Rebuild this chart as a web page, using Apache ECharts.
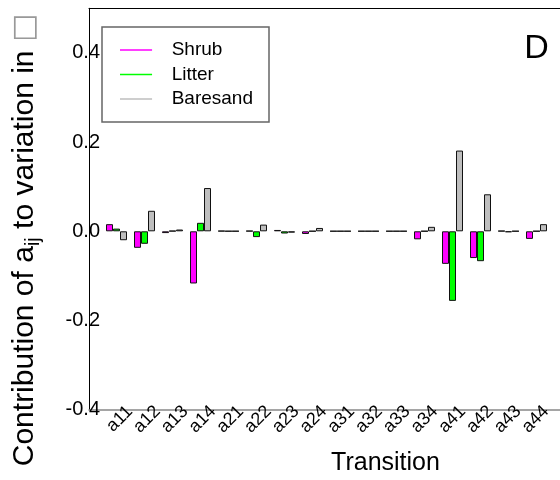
<!DOCTYPE html>
<html><head><meta charset="utf-8">
<script src="https://cdn.jsdelivr.net/npm/echarts@6/dist/echarts.min.js"></script>
<style>html,body{margin:0;padding:0;background:#fff}#c{width:560px;height:480px}</style>
</head><body><div id="c"></div>
<script>
const categories = ['a11','a12','a13','a14','a21','a22','a23','a24','a31','a32','a33','a34','a41','a42','a43','a44'];
const shrub    = [0.016,-0.037,-0.004,-0.117, 0.001, 0.001, 0.003,-0.006, 0.0005,0.0005,0.0005,-0.018,-0.073,-0.060, 0.001,-0.017];
const litter   = [0.006,-0.028, 0.001, 0.019, 0.0005,-0.013,-0.005,0.0005,0.0005,0.0005,0.0005,0.0005,-0.156,-0.067,-0.002,0.0005];
const baresand = [-0.020,0.046, 0.004, 0.097, 0.0005,0.015,-0.003, 0.0075,0.0005,0.0005,0.0005,0.010, 0.181, 0.083, 0.0005,0.016];
const seriesNames = ['Shrub','Litter','Baresand'];
const seriesColors = ['#ff00ff','#00ff00','#bebebe'];
const yMin = -0.4, yMax = 0.5, yStep = 0.2;

const FONT = '"Liberation Sans", Arial, Helvetica, sans-serif';
const chart = echarts.init(document.getElementById('c'), null, {renderer:'canvas'});
const values = [shrub, litter, baresand];

const hiddenY = (g) => ({gridIndex:g, type:'value', min:yMin, max:yMax, interval:yStep, show:false});

chart.setOption({
  animation:false,
  backgroundColor:'#fff',
  grid:[
    {left:89, right:-2, top:8.3, bottom:70.3},
    {left:102.5, width:448, top:8.3, bottom:70.3},
    {left:116, width:448, top:8.3, bottom:70.3}
  ],
  xAxis:[
    {gridIndex:0, type:'value', min:0, max:1, position:'bottom',
     axisLine:{show:true, onZero:false, lineStyle:{color:'#888', width:1.5}}, axisTick:{show:false}, axisLabel:{show:false}, splitLine:{show:false}},
    {gridIndex:0, type:'value', min:0, max:1, position:'top',
     axisLine:{show:true, onZero:false, lineStyle:{color:'#000', width:1}}, axisTick:{show:false}, axisLabel:{show:false}, splitLine:{show:false}},
    {gridIndex:1, type:'category', data:categories, show:false, axisLine:{onZero:false}},
    {gridIndex:2, type:'category', data:categories,
     axisLine:{show:false, onZero:false}, axisTick:{show:false}, splitLine:{show:false},
     axisLabel:{interval:0, rotate:45, margin:-1, fontSize:18, fontFamily:FONT, color:'#000'}}
  ],
  yAxis:[
    {gridIndex:0, type:'value', min:yMin, max:yMax, interval:yStep,
     axisLine:{show:true, onZero:false, lineStyle:{color:'#000', width:1}}, axisTick:{show:false}, splitLine:{show:false},
     axisLabel:{margin:-11, fontSize:20, fontFamily:FONT, color:'#000', showMaxLabel:false,
       formatter:(v)=> (v > 0.45 ? '' : v.toFixed(1))}},
    hiddenY(1),
    hiddenY(2)
  ],
  legend:{
    orient:'vertical', left:102, top:27, padding:[13,16,13,18],
    itemWidth:50, itemHeight:1.3, itemGap:4.5,
    icon:'path://M0,0h37v1.5h-37z M50,0L50,1.5',
    borderColor:'#666', borderWidth:1.5, backgroundColor:'#fff',
    selectedMode:false,
    itemStyle:{borderWidth:0},
    textStyle:{fontSize:19, fontFamily:FONT, color:'#000', lineHeight:20},
    data:seriesNames
  },
  series: seriesNames.map((n,i)=>({
    name:n, type:'bar', xAxisIndex:2, yAxisIndex:1,
    data:values[i], barGap:'0%', barCategoryGap:'25%', silent:true,
    itemStyle:{color:seriesColors[i], borderColor:'#111', borderWidth:1}
  })),
  graphic:[
    {type:'text', x:25, y:240, rotation:Math.PI/2, silent:true,
     style:{text:'{n|Contribution of a}{s|ij}{n| to variation in }{b|□}',
       align:'center', verticalAlign:'middle', fill:'#000',
       rich:{
         n:{fontSize:30, fontFamily:FONT, lineHeight:36, fill:'#000'},
         s:{fontSize:20, fontFamily:FONT, lineHeight:36, verticalAlign:'bottom', fill:'#000'},
         b:{fontSize:30, fontFamily:'"DejaVu Sans", sans-serif', lineHeight:36, fill:'#999'}
       }}},
    {type:'text', x:385.5, y:463, silent:true,
     style:{text:'Transition', align:'center', verticalAlign:'middle', fontSize:25, fontFamily:FONT, fill:'#000'}},
    {type:'text', x:536.5, y:49, silent:true,
     style:{text:'D', align:'center', verticalAlign:'middle', fontSize:34, fontFamily:FONT, fill:'#000'}}
  ]
});
</script></body></html>
